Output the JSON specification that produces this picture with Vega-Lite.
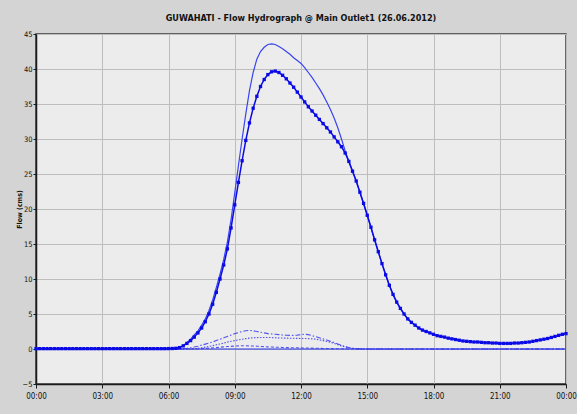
{
"$schema": "https://vega.github.io/schema/vega-lite/v6.json",
"width": 530,
"height": 350,
"autosize": {"type": "none"},
"padding": {"left": 36, "top": 34, "right": 11, "bottom": 30},
"background": "#d4d4d4",
"title": {"text": "GUWAHATI - Flow Hydrograph @ Main Outlet1 (26.06.2012)", "fontSize": 9, "fontWeight": "bold", "font": "DejaVu Sans Condensed, Liberation Sans, sans-serif", "color": "#111111", "anchor": "middle", "baseline": "bottom", "offset": -2},
"config": {
  "view": {"fill": "#ececec", "stroke": "#3a3a3a", "strokeWidth": 1.5},
  "axis": {"grid": true, "gridColor": "#bdbdbd", "gridWidth": 1, "domainColor": "#1a1a1a", "domainWidth": 1.5, "tickColor": "#1a1a1a", "labelFont": "DejaVu Sans Condensed, Liberation Sans, sans-serif", "labelFontSize": 8, "labelColor": "#111111", "labelFlush": false, "labelOverlap": false}
},
"datasets": {"h": [
{"m":0,"a":0.05,"b":0.05,"c":0,"d":0,"e":0},
{"m":10,"a":0.05,"b":0.05,"c":0,"d":0,"e":0},
{"m":20,"a":0.05,"b":0.05,"c":0,"d":0,"e":0},
{"m":30,"a":0.05,"b":0.05,"c":0,"d":0,"e":0},
{"m":40,"a":0.05,"b":0.05,"c":0,"d":0,"e":0},
{"m":50,"a":0.05,"b":0.05,"c":0,"d":0,"e":0},
{"m":60,"a":0.05,"b":0.05,"c":0,"d":0,"e":0},
{"m":70,"a":0.05,"b":0.05,"c":0,"d":0,"e":0},
{"m":80,"a":0.05,"b":0.05,"c":0,"d":0,"e":0},
{"m":90,"a":0.05,"b":0.05,"c":0,"d":0,"e":0},
{"m":100,"a":0.05,"b":0.05,"c":0,"d":0,"e":0},
{"m":110,"a":0.05,"b":0.05,"c":0,"d":0,"e":0},
{"m":120,"a":0.05,"b":0.05,"c":0,"d":0,"e":0},
{"m":130,"a":0.05,"b":0.05,"c":0,"d":0,"e":0},
{"m":140,"a":0.05,"b":0.05,"c":0,"d":0,"e":0},
{"m":150,"a":0.05,"b":0.05,"c":0,"d":0,"e":0},
{"m":160,"a":0.05,"b":0.05,"c":0,"d":0,"e":0},
{"m":170,"a":0.05,"b":0.05,"c":0,"d":0,"e":0},
{"m":180,"a":0.05,"b":0.05,"c":0,"d":0,"e":0},
{"m":190,"a":0.05,"b":0.05,"c":0,"d":0,"e":0},
{"m":200,"a":0.05,"b":0.05,"c":0,"d":0,"e":0},
{"m":210,"a":0.05,"b":0.05,"c":0,"d":0,"e":0},
{"m":220,"a":0.05,"b":0.05,"c":0,"d":0,"e":0},
{"m":230,"a":0.05,"b":0.05,"c":0,"d":0,"e":0},
{"m":240,"a":0.05,"b":0.05,"c":0,"d":0,"e":0},
{"m":250,"a":0.05,"b":0.05,"c":0,"d":0,"e":0},
{"m":260,"a":0.05,"b":0.05,"c":0,"d":0,"e":0},
{"m":270,"a":0.05,"b":0.05,"c":0,"d":0,"e":0},
{"m":280,"a":0.05,"b":0.05,"c":0,"d":0,"e":0},
{"m":290,"a":0.05,"b":0.05,"c":0,"d":0,"e":0},
{"m":300,"a":0.05,"b":0.05,"c":0,"d":0,"e":0},
{"m":310,"a":0.05,"b":0.05,"c":0,"d":0,"e":0},
{"m":320,"a":0.05,"b":0.05,"c":0,"d":0,"e":0},
{"m":330,"a":0.05,"b":0.05,"c":0,"d":0,"e":0},
{"m":340,"a":0.05,"b":0.05,"c":0,"d":0,"e":0},
{"m":350,"a":0.05,"b":0.05,"c":0,"d":0,"e":0},
{"m":360,"a":0.06,"b":0.06,"c":0,"d":0,"e":0},
{"m":370,"a":0.08,"b":0.07,"c":0,"d":0,"e":0},
{"m":380,"a":0.12,"b":0.1,"c":0,"d":0,"e":0},
{"m":390,"a":0.25,"b":0.2,"c":0.02,"d":0,"e":0},
{"m":400,"a":0.5,"b":0.45,"c":0.05,"d":0,"e":0},
{"m":410,"a":0.9,"b":0.8,"c":0.1,"d":0,"e":0},
{"m":420,"a":1.4,"b":1.2,"c":0.18,"d":0.02,"e":0},
{"m":430,"a":2.0,"b":1.7,"c":0.28,"d":0.05,"e":0},
{"m":440,"a":2.6,"b":2.3,"c":0.4,"d":0.1,"e":0.02},
{"m":450,"a":3.4,"b":3.0,"c":0.55,"d":0.18,"e":0.05},
{"m":460,"a":4.3,"b":3.9,"c":0.7,"d":0.27,"e":0.08},
{"m":470,"a":5.5,"b":5.0,"c":0.85,"d":0.37,"e":0.12},
{"m":480,"a":7.0,"b":6.4,"c":1.0,"d":0.48,"e":0.16},
{"m":490,"a":8.8,"b":8.1,"c":1.2,"d":0.6,"e":0.2},
{"m":500,"a":10.7,"b":10.0,"c":1.4,"d":0.72,"e":0.25},
{"m":510,"a":12.8,"b":12.0,"c":1.6,"d":0.85,"e":0.3},
{"m":520,"a":15.3,"b":14.3,"c":1.8,"d":0.98,"e":0.35},
{"m":530,"a":18.5,"b":17.3,"c":2.0,"d":1.1,"e":0.38},
{"m":540,"a":22.3,"b":20.6,"c":2.2,"d":1.2,"e":0.42},
{"m":550,"a":26.2,"b":23.8,"c":2.35,"d":1.3,"e":0.45},
{"m":560,"a":30.0,"b":26.9,"c":2.5,"d":1.4,"e":0.47},
{"m":570,"a":33.6,"b":29.8,"c":2.6,"d":1.48,"e":0.46},
{"m":580,"a":36.9,"b":32.3,"c":2.65,"d":1.55,"e":0.44},
{"m":590,"a":39.5,"b":34.4,"c":2.6,"d":1.6,"e":0.42},
{"m":600,"a":41.4,"b":36.1,"c":2.5,"d":1.63,"e":0.4},
{"m":610,"a":42.5,"b":37.5,"c":2.4,"d":1.65,"e":0.37},
{"m":620,"a":43.1,"b":38.5,"c":2.3,"d":1.65,"e":0.34},
{"m":630,"a":43.5,"b":39.2,"c":2.2,"d":1.65,"e":0.3},
{"m":640,"a":43.6,"b":39.6,"c":2.15,"d":1.63,"e":0.28},
{"m":650,"a":43.5,"b":39.7,"c":2.1,"d":1.6,"e":0.26},
{"m":660,"a":43.2,"b":39.5,"c":2.05,"d":1.58,"e":0.24},
{"m":670,"a":42.9,"b":39.1,"c":2.0,"d":1.56,"e":0.22},
{"m":680,"a":42.5,"b":38.6,"c":1.97,"d":1.55,"e":0.2},
{"m":690,"a":42.1,"b":38.0,"c":1.95,"d":1.54,"e":0.19},
{"m":700,"a":41.6,"b":37.4,"c":1.95,"d":1.53,"e":0.18},
{"m":710,"a":41.2,"b":36.7,"c":1.98,"d":1.52,"e":0.17},
{"m":720,"a":40.8,"b":36.0,"c":2.05,"d":1.5,"e":0.16},
{"m":730,"a":40.2,"b":35.3,"c":2.1,"d":1.5,"e":0.15},
{"m":740,"a":39.5,"b":34.6,"c":2.05,"d":1.48,"e":0.14},
{"m":750,"a":38.8,"b":34.0,"c":1.9,"d":1.45,"e":0.12},
{"m":760,"a":38.0,"b":33.4,"c":1.75,"d":1.4,"e":0.11},
{"m":770,"a":37.2,"b":32.8,"c":1.6,"d":1.32,"e":0.1},
{"m":780,"a":36.3,"b":32.2,"c":1.45,"d":1.2,"e":0.08},
{"m":790,"a":35.3,"b":31.6,"c":1.28,"d":1.08,"e":0.07},
{"m":800,"a":34.2,"b":31.0,"c":1.1,"d":0.95,"e":0.06},
{"m":810,"a":33.0,"b":30.3,"c":0.92,"d":0.8,"e":0.05},
{"m":820,"a":31.6,"b":29.6,"c":0.72,"d":0.62,"e":0.04},
{"m":830,"a":30.0,"b":28.9,"c":0.52,"d":0.45,"e":0.03},
{"m":840,"a":28.3,"b":28.0,"c":0.35,"d":0.3,"e":0.02},
{"m":850,"a":26.8,"b":26.8,"c":0.2,"d":0.18,"e":0.01},
{"m":860,"a":25.4,"b":25.4,"c":0.1,"d":0.1,"e":0},
{"m":870,"a":24.0,"b":24.0,"c":0.05,"d":0.05,"e":0},
{"m":880,"a":22.4,"b":22.4,"c":0.02,"d":0.02,"e":0},
{"m":890,"a":20.8,"b":20.8,"c":0,"d":0,"e":0},
{"m":900,"a":19.1,"b":19.1,"c":0,"d":0,"e":0},
{"m":910,"a":17.4,"b":17.4,"c":0,"d":0,"e":0},
{"m":920,"a":15.6,"b":15.6,"c":0,"d":0,"e":0},
{"m":930,"a":13.9,"b":13.9,"c":0,"d":0,"e":0},
{"m":940,"a":12.2,"b":12.2,"c":0,"d":0,"e":0},
{"m":950,"a":10.6,"b":10.6,"c":0,"d":0,"e":0},
{"m":960,"a":9.1,"b":9.1,"c":0,"d":0,"e":0},
{"m":970,"a":7.8,"b":7.8,"c":0,"d":0,"e":0},
{"m":980,"a":6.7,"b":6.7,"c":0,"d":0,"e":0},
{"m":990,"a":5.8,"b":5.8,"c":0,"d":0,"e":0},
{"m":1000,"a":5.0,"b":5.0,"c":0,"d":0,"e":0},
{"m":1010,"a":4.3,"b":4.3,"c":0,"d":0,"e":0},
{"m":1020,"a":3.8,"b":3.8,"c":0,"d":0,"e":0},
{"m":1030,"a":3.4,"b":3.4,"c":0,"d":0,"e":0},
{"m":1040,"a":3.0,"b":3.0,"c":0,"d":0,"e":0},
{"m":1050,"a":2.7,"b":2.7,"c":0,"d":0,"e":0},
{"m":1060,"a":2.5,"b":2.5,"c":0,"d":0,"e":0},
{"m":1070,"a":2.3,"b":2.3,"c":0,"d":0,"e":0},
{"m":1080,"a":2.1,"b":2.1,"c":0,"d":0,"e":0},
{"m":1090,"a":1.9,"b":1.9,"c":0,"d":0,"e":0},
{"m":1100,"a":1.8,"b":1.8,"c":0,"d":0,"e":0},
{"m":1110,"a":1.7,"b":1.7,"c":0,"d":0,"e":0},
{"m":1120,"a":1.55,"b":1.55,"c":0,"d":0,"e":0},
{"m":1130,"a":1.45,"b":1.45,"c":0,"d":0,"e":0},
{"m":1140,"a":1.35,"b":1.35,"c":0,"d":0,"e":0},
{"m":1150,"a":1.25,"b":1.25,"c":0,"d":0,"e":0},
{"m":1160,"a":1.15,"b":1.15,"c":0,"d":0,"e":0},
{"m":1170,"a":1.1,"b":1.1,"c":0,"d":0,"e":0},
{"m":1180,"a":1.05,"b":1.05,"c":0,"d":0,"e":0},
{"m":1190,"a":1.0,"b":1.0,"c":0,"d":0,"e":0},
{"m":1200,"a":1.0,"b":1.0,"c":0,"d":0,"e":0},
{"m":1210,"a":0.95,"b":0.95,"c":0,"d":0,"e":0},
{"m":1220,"a":0.9,"b":0.9,"c":0,"d":0,"e":0},
{"m":1230,"a":0.9,"b":0.9,"c":0,"d":0,"e":0},
{"m":1240,"a":0.85,"b":0.85,"c":0,"d":0,"e":0},
{"m":1250,"a":0.85,"b":0.85,"c":0,"d":0,"e":0},
{"m":1260,"a":0.8,"b":0.8,"c":0,"d":0,"e":0},
{"m":1270,"a":0.8,"b":0.8,"c":0,"d":0,"e":0},
{"m":1280,"a":0.8,"b":0.8,"c":0,"d":0,"e":0},
{"m":1290,"a":0.8,"b":0.8,"c":0,"d":0,"e":0},
{"m":1300,"a":0.85,"b":0.85,"c":0,"d":0,"e":0},
{"m":1310,"a":0.85,"b":0.85,"c":0,"d":0,"e":0},
{"m":1320,"a":0.9,"b":0.9,"c":0,"d":0,"e":0},
{"m":1330,"a":0.95,"b":0.95,"c":0,"d":0,"e":0},
{"m":1340,"a":1.0,"b":1.0,"c":0,"d":0,"e":0},
{"m":1350,"a":1.1,"b":1.1,"c":0,"d":0,"e":0},
{"m":1360,"a":1.2,"b":1.2,"c":0,"d":0,"e":0},
{"m":1370,"a":1.3,"b":1.3,"c":0,"d":0,"e":0},
{"m":1380,"a":1.4,"b":1.4,"c":0,"d":0,"e":0},
{"m":1390,"a":1.5,"b":1.5,"c":0,"d":0,"e":0},
{"m":1400,"a":1.65,"b":1.65,"c":0,"d":0,"e":0},
{"m":1410,"a":1.8,"b":1.8,"c":0,"d":0,"e":0},
{"m":1420,"a":1.95,"b":1.95,"c":0,"d":0,"e":0},
{"m":1430,"a":2.1,"b":2.1,"c":0,"d":0,"e":0},
{"m":1440,"a":2.2,"b":2.2,"c":0,"d":0,"e":0}
]},
"data": {"name": "h"},
"encoding": {
  "x": {"field": "m", "type": "quantitative", "scale": {"domain": [0, 1440], "nice": false, "zero": false},
    "axis": {"title": null, "values": [0,180,360,540,720,900,1080,1260,1440], "labelExpr": "(floor(datum.value/60)%24 < 10 ? '0' : '') + (floor(datum.value/60)%24) + ':00'", "tickSize": 4, "labelPadding": 4}}
},
"layer": [
  {"mark": {"type": "line", "color": "#2a35e8", "strokeWidth": 1.2},
   "encoding": {"y": {"datum": 0, "type": "quantitative", "scale": {"domain": [-5, 45], "nice": false, "zero": false},
     "axis": {"title": "Flow (cms)", "values": [-5,0,5,10,15,20,25,30,35,40,45], "tickSize": 3, "labelPadding": 1, "labelFontSize": 7.5, "titleFont": "DejaVu Sans Condensed, Liberation Sans, sans-serif", "titleFontSize": 7, "titleFontWeight": "bold", "titleColor": "#111111", "titlePadding": 0}}}},
  {"mark": {"type": "line", "color": "#3a3af0", "strokeWidth": 1.1, "strokeDash": [5, 2, 1.5, 2], "opacity": 0.85},
   "encoding": {"y": {"field": "c", "type": "quantitative", "scale": {"domain": [-5, 45], "nice": false, "zero": false},
     "axis": {"title": "Flow (cms)", "values": [-5,0,5,10,15,20,25,30,35,40,45], "tickSize": 3, "labelPadding": 1, "labelFontSize": 7.5, "titleFont": "DejaVu Sans Condensed, Liberation Sans, sans-serif", "titleFontSize": 7, "titleFontWeight": "bold", "titleColor": "#111111", "titlePadding": 0}}}},
  {"mark": {"type": "line", "color": "#3a3af0", "strokeWidth": 1.1, "strokeDash": [1.5, 1.5], "opacity": 0.85},
   "encoding": {"y": {"field": "d", "type": "quantitative", "scale": {"domain": [-5, 45], "nice": false, "zero": false},
     "axis": {"title": "Flow (cms)", "values": [-5,0,5,10,15,20,25,30,35,40,45], "tickSize": 3, "labelPadding": 1, "labelFontSize": 7.5, "titleFont": "DejaVu Sans Condensed, Liberation Sans, sans-serif", "titleFontSize": 7, "titleFontWeight": "bold", "titleColor": "#111111", "titlePadding": 0}}}},
  {"mark": {"type": "line", "color": "#3a3af0", "strokeWidth": 1.1, "strokeDash": [3, 2], "opacity": 0.85},
   "encoding": {"y": {"field": "e", "type": "quantitative", "scale": {"domain": [-5, 45], "nice": false, "zero": false},
     "axis": {"title": "Flow (cms)", "values": [-5,0,5,10,15,20,25,30,35,40,45], "tickSize": 3, "labelPadding": 1, "labelFontSize": 7.5, "titleFont": "DejaVu Sans Condensed, Liberation Sans, sans-serif", "titleFontSize": 7, "titleFontWeight": "bold", "titleColor": "#111111", "titlePadding": 0}}}},
  {"mark": {"type": "line", "color": "#3a44ee", "strokeWidth": 1.2},
   "encoding": {"y": {"field": "a", "type": "quantitative", "scale": {"domain": [-5, 45], "nice": false, "zero": false},
     "axis": {"title": "Flow (cms)", "values": [-5,0,5,10,15,20,25,30,35,40,45], "tickSize": 3, "labelPadding": 1, "labelFontSize": 7.5, "titleFont": "DejaVu Sans Condensed, Liberation Sans, sans-serif", "titleFontSize": 7, "titleFontWeight": "bold", "titleColor": "#111111", "titlePadding": 0}}}},
  {"mark": {"type": "line", "color": "#0a0ae6", "strokeWidth": 1.5, "point": {"shape": "square", "size": 11, "filled": true, "color": "#0a0ae6", "opacity": 1}},
   "encoding": {"y": {"field": "b", "type": "quantitative", "scale": {"domain": [-5, 45], "nice": false, "zero": false},
     "axis": {"title": "Flow (cms)", "values": [-5,0,5,10,15,20,25,30,35,40,45], "tickSize": 3, "labelPadding": 1, "labelFontSize": 7.5, "titleFont": "DejaVu Sans Condensed, Liberation Sans, sans-serif", "titleFontSize": 7, "titleFontWeight": "bold", "titleColor": "#111111", "titlePadding": 0}}}}
]
}
